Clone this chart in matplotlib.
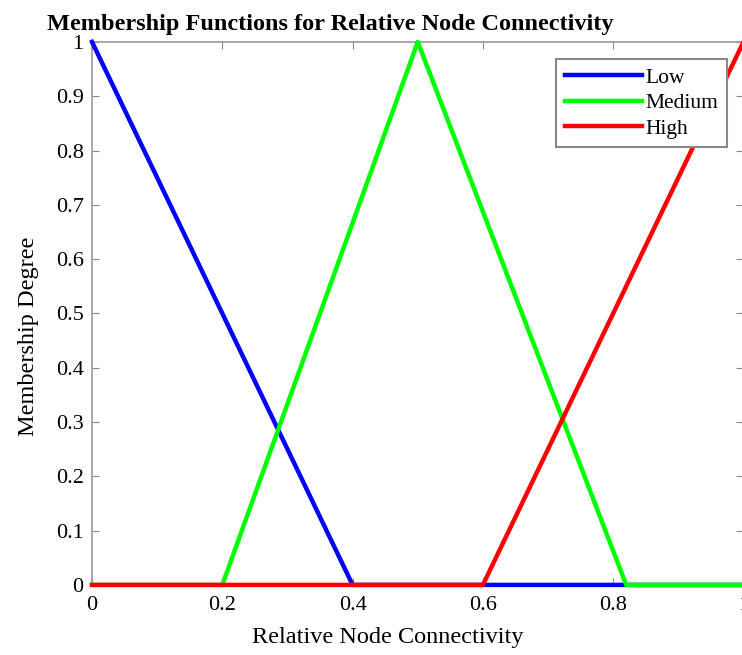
import matplotlib
matplotlib.use('Agg')
import matplotlib.pyplot as plt

plt.rcParams['font.family'] = ['Liberation Serif', 'DejaVu Serif']

# membership function break points
low_x = [0, 0.4, 1.0]
low_y = [1, 0, 0]
med_x = [0, 0.2, 0.5, 0.82, 1.0]
med_y = [0, 0, 1, 0, 0]
high_x = [0, 0.6, 1.0]
high_y = [0, 0, 1]
xticks = [0, 0.2, 0.4, 0.6, 0.8, 1]
xtick_labels = ['0', '0.2', '0.4', '0.6', '0.8', '1']
yticks = [0, 0.1, 0.2, 0.3, 0.4, 0.5, 0.6, 0.7, 0.8, 0.9, 1]
ytick_labels = ['0', '0.1', '0.2', '0.3', '0.4', '0.5', '0.6', '0.7', '0.8', '0.9', '1']

fig = plt.figure(figsize=(7.42, 6.55), dpi=100)
ax = fig.add_axes([0.124, 0.107, 0.878, 0.829])

ax.plot(low_x, low_y, color=(0, 0, 1), lw=3.2, label='Low', clip_on=False, zorder=3)
ax.plot(med_x, med_y, color=(0, 1, 0), lw=3.2, label='Medium', clip_on=False, zorder=3)
ax.plot(high_x, high_y, color=(1, 0, 0), lw=3.2, label='High', clip_on=False, zorder=3)

ax.set_xlim(0, 1)
ax.set_ylim(0, 1)
ax.set_xticks(xticks)
ax.set_xticklabels(xtick_labels)
ax.set_yticks(yticks)
ax.set_yticklabels(ytick_labels)
ax.tick_params(direction='in', top=True, right=True, labelsize=16, color='#888888',
               length=5)
ax.tick_params(axis='x', pad=8)
ax.tick_params(axis='y', pad=6)
for s in ax.spines.values():
    s.set_color('#999999')
    s.set_linewidth(1.2)

ax.set_xlabel('Relative Node Connectivity', fontsize=17.5, va='center')
ax.xaxis.set_label_coords(0.454, -0.096)
ax.set_ylabel('Membership Degree', fontsize=17.5, va='center')
ax.yaxis.set_label_coords(-0.098, 0.457)
ax.text(0.366, 1.032, 'Membership Functions for Relative Node Connectivity',
        transform=ax.transAxes, ha='center', va='center', fontsize=17.5,
        fontweight='bold')

leg = ax.legend(loc='upper right', bbox_to_anchor=(0.975, 0.968), fontsize=15.5,
                fancybox=False, framealpha=1, edgecolor='#888888', handlelength=3.6,
                handletextpad=0.15, borderpad=0.4, labelspacing=0.25, borderaxespad=0)
leg.get_frame().set_linewidth(1.5)
leg.set_zorder(5)

fig.savefig('out.png', dpi=100)
